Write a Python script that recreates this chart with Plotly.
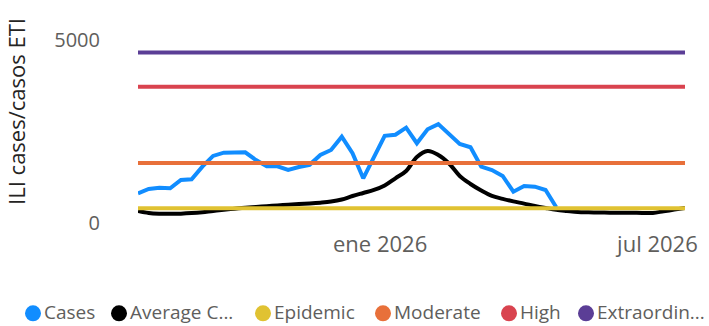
import pandas as pd
import plotly.graph_objects as go

# ---------------- data ----------------
weeks = pd.date_range("2025-07-27", periods=52, freq="7D")

cases = [811, 929, 965, 947, 1175, 1194, 1538, 1831, 1921, 1930,
         1930, 1720, 1550, 1550, 1448, 1530, 1590, 1858, 1995, 2358,
         1904, 1221, 1780, 2380, 2410, 2604, 2178, 2560, 2700, 2432,
         2158, 2068, 1538, 1448, 1284, 855, 1011, 992, 902, 430] + [None] * 12

average_cases = [328, 275, 255, 250, 255, 270, 295, 330, 360, 390,
                 415, 440, 460, 480, 500, 520, 535, 555, 585, 640,
                 738, 820, 902, 1025, 1221, 1420, 1803, 1967, 1858, 1626,
                 1284, 1066, 888, 740, 660, 590, 530, 465, 410, 360,
                 328, 300, 292, 287, 281, 281, 279, 276, 276, 320,
                 365, 410]

epidemic_threshold = 403
moderate_threshold = 1640
high_threshold = 3719
extraordinary_threshold = 4654

series_names = ["Cases", "Average C...", "Epidemic", "Moderate", "High", "Extraordin..."]
series_colors = ["#118DFF", "#000000", "#E0C232", "#E8703A", "#D9434F", "#5B3E96"]

y_tick_values = [0, 5000]
y_tick_labels = ["0", "5000"]
x_tick_values = ["2026-01-01", "2026-07-01"]
x_tick_labels = ["ene 2026", "jul 2026"]

# ---------------- figure ----------------
W, H = 709, 326
ML, MR, MT, MB = 138, 24, 0, 102.5
plot_w = W - ML - MR
plot_h = H - MT - MB

n = len(weeks)
series_values = [
    cases,
    average_cases,
    [epidemic_threshold] * n,
    [moderate_threshold] * n,
    [high_threshold] * n,
    [extraordinary_threshold] * n,
]

fig = go.Figure()
for name, vals, col in zip(series_names, series_values, series_colors):
    shape = "spline" if name.startswith("Average") else "linear"
    fig.add_trace(go.Scatter(
        x=weeks, y=vals, name=name, mode="lines",
        line=dict(color=col, width=4, shape=shape),
        connectgaps=False, showlegend=False,
    ))

FONT = "Open Sans"
fig.update_layout(
    width=W, height=H,
    margin=dict(l=ML, r=MR, t=MT, b=MB, autoexpand=False),
    paper_bgcolor="white", plot_bgcolor="white",
    font=dict(family=FONT),
    showlegend=False,
    xaxis=dict(
        range=[weeks[0], weeks[-1]],
        tickvals=x_tick_values, ticktext=x_tick_labels,
        showgrid=False, zeroline=False, showline=False,
        tickfont=dict(family=FONT, size=22, color="#605E5C"),
        ticklabelstandoff=6, automargin=False,
    ),
    yaxis=dict(
        range=[0, 6090],
        tickvals=y_tick_values, ticktext=y_tick_labels,
        showgrid=False, zeroline=False, showline=False,
        tickfont=dict(family=FONT, size=20, color="#605E5C"),
        ticklabelstandoff=37, automargin=False,
        title=dict(text="ILI cases/casos ETI", standoff=22,
                   font=dict(family=FONT, size=22, color="#252423")),
    ),
)

# ---------------- manual legend (circles + text) ----------------
legend_circle_px = [33, 119, 263, 383, 509, 586]
legend_y_px = 312.5
def px_x(p):
    return (p - ML) / plot_w
def px_y(p):
    return (MT + plot_h - p) / plot_h

for name, col, cx in zip(series_names, series_colors, legend_circle_px):
    fig.add_shape(type="circle", xref="paper", yref="paper",
                  xsizemode="pixel", ysizemode="pixel",
                  xanchor=px_x(cx), yanchor=px_y(legend_y_px + 1.5),
                  x0=-8, x1=8, y0=-8, y1=8,
                  fillcolor=col, line=dict(width=0))
    fig.add_annotation(text=name, xref="paper", yref="paper",
                       x=px_x(cx + 9), y=px_y(legend_y_px),
                       xanchor="left", yanchor="middle", showarrow=False,
                       font=dict(family=FONT, size=19, color="#605E5C"))

fig.write_html(
    "out.html",
    config={"displayModeBar": False},
    post_script="document.body.style.margin='0';document.body.style.overflow='hidden';",
)
